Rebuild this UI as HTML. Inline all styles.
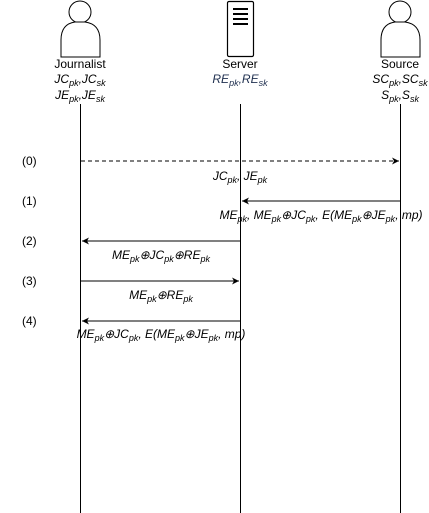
<!DOCTYPE html>
<html><head><style>body{margin:0;background:#fff}svg{display:block}text{font-family:"Liberation Sans",Arial,sans-serif;font-size:12px;fill:#000}.i{font-style:italic}</style></head><body>
<svg width="429" height="513" viewBox="0 0 429 513" xmlns="http://www.w3.org/2000/svg">
<defs><marker id="a" markerWidth="8" markerHeight="8" refX="7" refY="4" orient="auto" markerUnits="userSpaceOnUse"><path d="M0,0.5 L7,4 L0,7.5 L2,4 Z" fill="#000"/></marker></defs>
<g stroke="#000" fill="#fff" stroke-width="1">
<circle cx="80" cy="12" r="11"/>
<path d="M61,57 L61,40 Q61,24 75,22 L85,22 Q100,24 100,40 L100,57 Z"/>
<circle cx="400" cy="12" r="11"/>
<path d="M381,57 L381,40 Q381,24 395,22 L405,22 Q420,24 420,40 L420,57 Z"/>
<rect x="227.5" y="1.5" width="26" height="55" rx="1.5" stroke-width="1.2"/>
</g>
<g stroke="#000" stroke-width="2"><line x1="233" y1="9" x2="248" y2="9"/><line x1="233" y1="14" x2="248" y2="14"/><line x1="233" y1="19" x2="248" y2="19"/><line x1="233" y1="24" x2="248" y2="24"/></g>
<g stroke="#000" stroke-width="1">
<line x1="80.5" y1="104" x2="80.5" y2="513"/>
<line x1="240.5" y1="104" x2="240.5" y2="513"/>
<line x1="400.5" y1="104" x2="400.5" y2="513"/>
<line x1="81" y1="161" x2="399" y2="161" stroke-dasharray="4,3" marker-end="url(#a)"/>
<line x1="400" y1="201" x2="242" y2="201" marker-end="url(#a)"/>
<line x1="240" y1="241" x2="82" y2="241" marker-end="url(#a)"/>
<line x1="81" y1="281" x2="239" y2="281" marker-end="url(#a)"/>
<line x1="240" y1="321" x2="82" y2="321" marker-end="url(#a)"/>
</g>
<g text-anchor="middle">
<text x="80" y="68">Journalist</text>
<text x="80" y="83" class="i">JC<tspan font-size="9" dy="3">pk</tspan><tspan dy="-3">,JC</tspan><tspan font-size="9" dy="3">sk</tspan></text>
<text x="80" y="99" class="i">JE<tspan font-size="9" dy="3">pk</tspan><tspan dy="-3">,JE</tspan><tspan font-size="9" dy="3">sk</tspan></text>
<text x="240" y="68">Server</text>
<text x="240" y="83" class="i" style="fill:#1f2f4f">RE<tspan font-size="9" dy="3">pk</tspan><tspan dy="-3">,RE</tspan><tspan font-size="9" dy="3">sk</tspan></text>
<text x="400" y="68">Source</text>
<text x="400" y="83" class="i">SC<tspan font-size="9" dy="3">pk</tspan><tspan dy="-3">,SC</tspan><tspan font-size="9" dy="3">sk</tspan></text>
<text x="400" y="99" class="i">S<tspan font-size="9" dy="3">pk</tspan><tspan dy="-3">,S</tspan><tspan font-size="9" dy="3">sk</tspan></text>
<text x="240" y="180" class="i">JC<tspan font-size="9" dy="3">pk</tspan><tspan dy="-3">, JE</tspan><tspan font-size="9" dy="3">pk</tspan></text>
<text x="321" y="219" class="i">ME<tspan font-size="9" dy="3">pk</tspan><tspan dy="-3">, ME</tspan><tspan font-size="9" dy="3">pk</tspan><tspan dy="-3">⊕JC</tspan><tspan font-size="9" dy="3">pk</tspan><tspan dy="-3">, E(ME</tspan><tspan font-size="9" dy="3">pk</tspan><tspan dy="-3">⊕JE</tspan><tspan font-size="9" dy="3">pk</tspan><tspan dy="-3">, mp)</tspan></text>
<text x="161" y="259" class="i">ME<tspan font-size="9" dy="3">pk</tspan><tspan dy="-3">⊕JC</tspan><tspan font-size="9" dy="3">pk</tspan><tspan dy="-3">⊕RE</tspan><tspan font-size="9" dy="3">pk</tspan></text>
<text x="161" y="299" class="i">ME<tspan font-size="9" dy="3">pk</tspan><tspan dy="-3">⊕RE</tspan><tspan font-size="9" dy="3">pk</tspan></text>
<text x="161" y="338" class="i">ME<tspan font-size="9" dy="3">pk</tspan><tspan dy="-3">⊕JC</tspan><tspan font-size="9" dy="3">pk</tspan><tspan dy="-3">, E(ME</tspan><tspan font-size="9" dy="3">pk</tspan><tspan dy="-3">⊕JE</tspan><tspan font-size="9" dy="3">pk</tspan><tspan dy="-3">, mp)</tspan></text>
</g>
<g><text x="22" y="165">(0)</text><text x="22" y="205">(1)</text><text x="22" y="245">(2)</text><text x="22" y="285">(3)</text><text x="22" y="325">(4)</text></g>
</svg>
</body></html>
